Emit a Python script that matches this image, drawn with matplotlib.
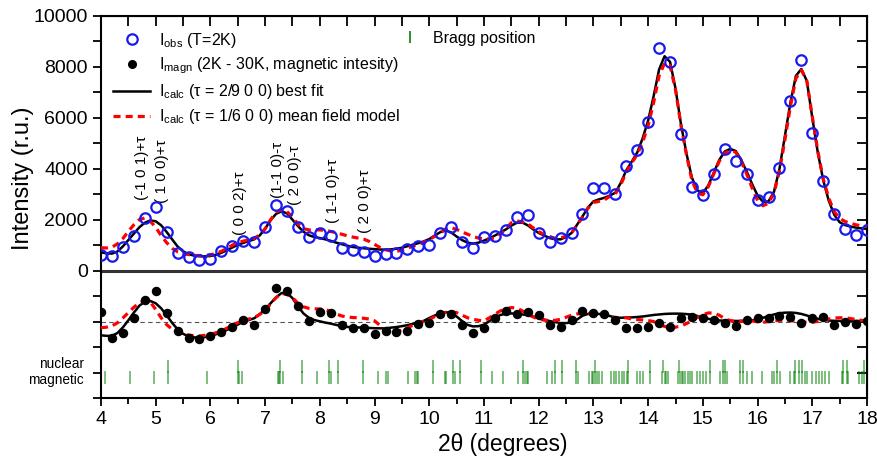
import numpy as np
import matplotlib
matplotlib.use('Agg')
import matplotlib.pyplot as plt
import matplotlib.transforms as mtransforms
from matplotlib.ticker import MultipleLocator, FixedLocator, NullFormatter
from matplotlib.lines import Line2D

plt.rcParams['font.family'] = ['Liberation Sans', 'DejaVu Sans']
plt.rcParams['mathtext.fontset'] = 'custom'
plt.rcParams['mathtext.rm'] = 'Liberation Sans'
plt.rcParams['mathtext.it'] = 'Liberation Sans:italic'

# observed points, 2theta step 0.2
two_theta_obs = np.round(np.arange(4.0, 18.01, 0.2), 2)
i_obs = [620, 590, 930, 1350, 2080, 2500, 1530, 690, 540, 430,
         460, 760, 980, 1180, 1120, 1710, 2590, 2330, 1710, 1310,
         1460, 1370, 870, 810, 745, 590, 640, 700, 850, 980,
         1020, 1480, 1700, 1120, 870, 1320, 1350, 1610, 2100, 2200,
         1480, 1140, 1280, 1480, 2240, 3240, 3230, 3010, 4100, 4750,
         5820, 8730, 8180, 5370, 3280, 2980, 3800, 4780, 4290, 3800,
         2760, 2910, 4050, 6670, 8270, 5400, 3530, 2240, 1630, 1390,
         1580]
# magnetic intensity (2K - 30K), relative to its own baseline
i_magn = [390, -630, -450, 160, 860, 1200, 350, -370, -630, -670,
          -560, -410, -200, 50, -130, 510, 1310, 1200, 610, 20,
          390, 330, -150, -240, -260, -500, -370, -390, -370, -100,
          -70, 310, 310, -130, -430, -270, 160, 420, 310, 380,
          260, -130, -210, 60, 420, 350, 310, 60, -260, -240,
          -200, -40, -210, 160, 180, 130, 50, -70, -170, 50,
          130, 160, 200, 180, -70, 130, 180, -130, -10, -100,
          30]

# calculated curves, 2theta step 0.1
two_theta_calc = np.round(np.arange(4.0, 18.001, 0.1), 2)
calc_best = [720, 680, 670, 750, 950, 1200, 1450, 1700, 1880, 1970,
             1940, 1780, 1520, 1230, 950, 760, 650, 590, 565, 560,
             575, 620, 700, 800, 910, 1010, 1090, 1160, 1230, 1380,
             1650, 1980, 2230, 2330, 2250, 2000, 1750, 1530, 1390, 1320,
             1280, 1230, 1170, 1100, 1040, 980, 930, 900, 880, 860,
             845, 830, 825, 835, 860, 900, 960, 1020, 1080, 1150,
             1240, 1380, 1510, 1580, 1500, 1340, 1200, 1100, 1060, 1100,
             1180, 1270, 1380, 1500, 1620, 1770, 1880, 1890, 1780, 1620,
             1480, 1380, 1280, 1230, 1230, 1320, 1480, 1800, 2130, 2480,
             2720, 2800, 2860, 2950, 3060, 3450, 3940, 4280, 4640, 5200,
             5900, 6850, 7900, 8420, 8200, 7150, 5750, 4600, 3650, 3150,
             3050, 3350, 3850, 4350, 4680, 4780, 4700, 4350, 3900, 3400,
             2950, 2700, 2720, 3100, 4000, 5300, 6600, 7650, 7920, 7450,
             6000, 4650, 3550, 2750, 2200, 1900, 1790, 1730, 1690, 1660,
             1640]
calc_mf = [900, 890, 920, 1050, 1260, 1540, 1800, 2000, 2070, 1950,
           1700, 1380, 1100, 880, 740, 670, 630, 600, 590, 595,
           620, 680, 760, 870, 1000, 1100, 1160, 1210, 1270, 1400,
           1640, 2000, 2300, 2400, 2320, 2100, 1830, 1650, 1600, 1600,
           1600, 1580, 1540, 1490, 1430, 1370, 1320, 1280, 1240, 1150,
           1030, 910, 820, 770, 760, 800, 880, 960, 1030, 1120,
           1220, 1350, 1480, 1640, 1680, 1620, 1520, 1430, 1340, 1280,
           1250, 1240, 1300, 1450, 1650, 1880, 1950, 1920, 1840, 1680,
           1530, 1420, 1340, 1270, 1290, 1350, 1480, 1780, 2100, 2450,
           2680, 2720, 2780, 2920, 3010, 3380, 3860, 4230, 4560, 5050,
           5700, 6600, 7650, 8150, 8050, 7100, 5700, 4550, 3550, 3050,
           2980, 3300, 3800, 4300, 4620, 4720, 4650, 4300, 3800, 3250,
           2750, 2550, 2650, 3050, 3900, 5150, 6450, 7550, 7880, 7450,
           6050, 4700, 3600, 2850, 2320, 2050, 1930, 1860, 1800, 1760,
           1740]
magn_best = [-540, -560, -560, -450, -230, 50, 350, 620, 780, 810,
             720, 520, 250, -50, -300, -480, -580, -620, -630, -610,
             -570, -500, -420, -330, -220, -120, 0, 60, 130, 290,
             480, 720, 950, 1120, 1120, 920, 600, 320, 150, 60,
             10, -40, -80, -130, -180, -210, -220, -230, -235, -250,
             -260, -265, -262, -240, -215, -180, -140, -90, -50, 30,
             140, 240, 320, 370, 330, 200, 20, -130, -190, -180,
             -120, 20, 150, 260, 310, 320, 310, 280, 250, 200,
             140, 80, 20, -20, -60, -60, -30, 80, 230, 300,
             310, 300, 270, 220, 150, 150, 160, 165, 180, 200,
             230, 260, 280, 300, 310, 313, 310, 295, 270, 220,
             160, 110, 70, 45, 30, 25, 25, 25, 30, 50,
             90, 150, 220, 280, 330, 350, 355, 340, 300, 240,
             170, 110, 70, 40, 30, 25, 25, 25, 25, 25,
             25]
magn_mf = [-240, -220, -170, -50, 140, 350, 560, 740, 820, 770,
           480, 150, -120, -300, -410, -480, -530, -555, -565, -540,
           -500, -440, -370, -260, -150, -40, 30, 100, 150, 280,
           430, 700, 940, 1100, 1070, 940, 720, 580, 520, 500,
           495, 470, 400, 300, 220, 180, 160, 150, 130, 100,
           30, -150, -320, -380, -390, -340, -250, -140, -60, 10,
           80, 200, 300, 360, 390, 350, 250, 150, 90, 50,
           30, 150, 290, 420, 500, 550, 530, 420, 300, 180,
           100, 55, 45, 50, 90, 170, 250, 300, 315, 315,
           313, 305, 290, 230, 150, 160, 150, 100, 80, 65,
           40, 0, -100, -190, -235, -220, -170, -80, 40, 160,
           270, 340, 330, 250, 110, 40, 0, 20, 25, 25,
           -10, -30, 0, 25, 50, 60, 40, 10, -5, -30,
           -30, 10, 70, 100, 140, 150, 150, 120, 80, 50,
           25]

bragg_nuclear = [5.22, 6.50, 7.27, 7.67, 8.16, 8.34, 8.78, 10.07, 10.44, 10.56,
                 10.94, 11.72, 12.30, 12.42, 12.68, 13.03, 13.64, 14.04, 14.27,
                 14.57, 15.13, 15.36, 15.41, 15.68, 15.74, 16.35, 16.69, 16.75,
                 16.81, 17.57, 17.63, 17.94]
bragg_magnetic = [4.07, 4.53, 4.97, 5.22, 5.94, 6.50, 6.53, 6.58, 7.24, 7.26,
                  7.28, 7.33, 7.67, 7.94, 8.16, 8.20, 8.34, 8.78, 9.06, 9.21,
                  9.24, 9.62, 9.74, 9.77, 9.79, 10.07, 10.28, 10.30, 10.44, 10.47,
                  10.56, 10.94, 11.15, 11.35, 11.63, 11.72, 11.75, 11.78, 11.80,
                  12.16, 12.24, 12.30, 12.42, 12.68, 12.72, 12.91, 12.97, 13.00,
                  13.03, 13.06, 13.10, 13.15, 13.33, 13.37, 13.42, 13.47, 13.52,
                  13.56, 13.61, 13.64, 13.79, 13.85, 13.90, 14.04, 14.26, 14.30,
                  14.33, 14.36, 14.55, 14.58, 14.61, 14.64, 14.68, 14.72, 14.76,
                  14.80, 14.89, 14.95, 15.00, 15.06, 15.13, 15.32, 15.36, 15.40,
                  15.44, 15.68, 15.74, 15.80, 15.89, 16.08, 16.26, 16.30, 16.35,
                  16.41, 16.60, 16.66, 16.69, 16.75, 16.81, 16.86, 16.90, 17.00,
                  17.06, 17.12, 17.18, 17.24, 17.30, 17.54, 17.57, 17.63, 17.66,
                  17.85, 17.90, 17.94]

reflections = ['(-1 0 1)+τ', '( 1 0 0)+τ', '( 0 0 2)+τ', '(1-1 0)-τ',
               '( 2 0 0)-τ', '( 1-1 0)+τ', '( 2 0 0)+τ']
reflection_pos = [4.75, 5.11, 6.54, 7.24, 7.55, 8.24, 8.83]
reflection_base = [2780, 2670, 1410, 2860, 2590, 1880, 1490]

magn_offset = -2000

fig = plt.figure(figsize=(8.78, 4.61), dpi=100)
ax = fig.add_axes([0.115, 0.1367, 0.8725, 0.8286])

red = '#ff0000'
blue = '#1a1aee'
green = '#008000'

ax.axhline(0, color='#333333', lw=2.2, zorder=1)
ax.axhline(magn_offset, color='#555555', lw=0.8, ls=(0, (4, 3)), zorder=1)

ax.plot(two_theta_calc, calc_best, color='k', lw=1.8, zorder=3)
ax.plot(two_theta_calc, calc_mf, color=red, lw=2.3, ls=(0, (2.2, 1.6)), zorder=3)
ax.plot(two_theta_obs, i_obs, 'o', mfc='none', mec=blue, ms=7.5, mew=1.6, zorder=4)

magn = np.array(i_magn) + magn_offset
ax.plot(two_theta_calc, np.array(magn_best) + magn_offset, color='k', lw=1.8, zorder=3)
ax.plot(two_theta_calc, np.array(magn_mf) + magn_offset, color=red, lw=2.3,
        ls=(0, (2.2, 1.6)), zorder=3)
ax.errorbar(two_theta_obs, magn, yerr=90, fmt='o', color='k', ms=5.8,
            elinewidth=1.2, capsize=0, zorder=4)

ax.vlines(bragg_nuclear, -4000, -3500, color=green, alpha=0.6, lw=1.2)
ax.vlines(bragg_magnetic, -4450, -3950, color=green, alpha=0.6, lw=1.2)

for lab, xp, yb in zip(reflections, reflection_pos, reflection_base):
    ax.text(xp, yb, lab, rotation=90, ha='center', va='bottom', fontsize=11)

trans = mtransforms.blended_transform_factory(ax.transAxes, ax.transData)
ax.text(-0.022, -3650, 'nuclear', transform=trans, ha='right', va='center', fontsize=9.8)
ax.text(-0.022, -4310, 'magnetic', transform=trans, ha='right', va='center', fontsize=9.8)

ax.set_xlim(4, 18)
ax.set_ylim(-5000, 10000)
ax.xaxis.set_major_locator(MultipleLocator(1))
ax.xaxis.set_minor_locator(MultipleLocator(0.5))
yt = np.arange(-5000, 10001, 1000)
ax.set_yticks(yt)
ax.set_yticklabels([str(v) if (v >= 0 and v % 2000 == 0) else '' for v in yt])
ax.tick_params(axis='both', which='both', direction='out', length=6, width=1.3,
               labelsize=14)
ax.tick_params(axis='x', which='minor', length=4)
for s in ax.spines.values():
    s.set_linewidth(1.5)

top = ax.secondary_xaxis('top')
top.xaxis.set_major_locator(MultipleLocator(0.5))
top.xaxis.set_major_formatter(NullFormatter())
top.tick_params(direction='in', length=7, width=1.3)
right = ax.secondary_yaxis('right')
right.yaxis.set_major_locator(FixedLocator(yt))
right.yaxis.set_major_formatter(NullFormatter())
right.tick_params(direction='in', length=7, width=1.3)

ax.set_xlabel('2θ (degrees)', fontsize=16.5)
ax.xaxis.set_label_coords(0.525, -0.092)
ax.set_ylabel('Intensity (r.u.)', fontsize=17)
ax.yaxis.set_label_coords(-0.088, 0.576)

handles = [
    Line2D([], [], ls='none', marker='o', mfc='none', mec=blue, ms=7.5, mew=1.6),
    Line2D([], [], ls='none', marker='o', color='k', ms=5.5),
    Line2D([], [], color='k', lw=1.8),
    Line2D([], [], color=red, lw=2.3, ls=(0, (2.2, 1.6))),
]
labels = [r'$\mathregular{I_{obs}}$ (T=2K)',
          r'$\mathregular{I_{magn}}$ (2K - 30K, magnetic intesity)',
          r'$\mathregular{I_{calc}}$ (τ = 2/9 0 0) best fit',
          r'$\mathregular{I_{calc}}$ (τ = 1/6 0 0) mean field model']
leg = ax.legend(handles, labels, loc='upper left', bbox_to_anchor=(0.016, 0.962),
                frameon=False, fontsize=11.5, handlelength=2.3, handletextpad=0.55,
                labelspacing=0.38, borderpad=0, borderaxespad=0)
ax.add_artist(leg)
bragg_handle = Line2D([], [], ls='none', marker='|', color=green, ms=9, mew=1.2)
ax.legend([bragg_handle], ['Bragg position'], loc='upper left',
          bbox_to_anchor=(0.382, 0.962), frameon=False, fontsize=11.5,
          handlelength=2.0, handletextpad=0.45, borderpad=0, borderaxespad=0)

fig.savefig('out.png', dpi=100)
